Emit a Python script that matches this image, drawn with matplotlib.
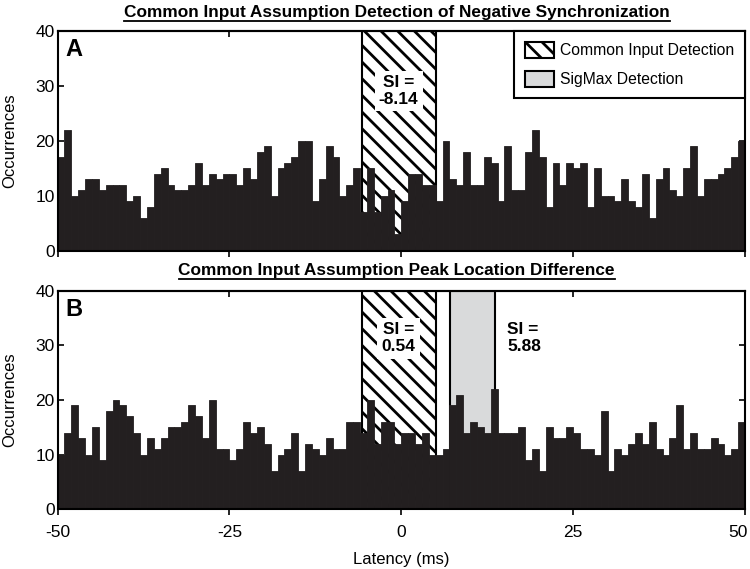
import numpy as np
import matplotlib
matplotlib.use("Agg")
import matplotlib.pyplot as plt
from matplotlib.patches import Rectangle, Patch
from matplotlib.lines import Line2D
from matplotlib.transforms import ScaledTranslation

plt.rcParams["font.family"] = ["Liberation Sans", "DejaVu Sans"]
plt.rcParams["hatch.linewidth"] = 2.0
plt.rcParams["axes.unicode_minus"] = False

# 1 ms bins from -50 to 49 (left edges)
latency = np.arange(-50, 50)

counts_a = [17, 22, 10, 11, 13, 13, 11, 12, 12, 12,
            9, 10, 6, 8, 14, 15, 12, 11, 11, 12,
            16, 12, 14, 13, 14, 14, 12, 15, 13, 18,
            19, 10, 15, 16, 17, 20, 20, 9, 13, 19,
            17, 10, 12, 15, 7, 15, 7, 10, 11, 3,
            9, 14, 14, 12, 12, 9, 20, 13, 12, 18,
            12, 12, 17, 16, 9, 19, 11, 11, 18, 22,
            17, 8, 16, 12, 16, 15, 16, 8, 15, 10,
            10, 9, 13, 9, 8, 14, 6, 13, 15, 11,
            10, 15, 19, 10, 13, 13, 14, 15, 17, 20]

counts_b = [10, 14, 19, 13, 10, 15, 9, 18, 20, 19,
            17, 14, 10, 13, 11, 13, 15, 15, 16, 19,
            17, 13, 20, 11, 11, 9, 11, 16, 14, 15,
            12, 7, 10, 11, 14, 7, 12, 11, 10, 13,
            11, 11, 16, 16, 14, 20, 12, 16, 16, 12,
            14, 14, 12, 14, 10, 10, 11, 19, 21, 14,
            16, 15, 14, 22, 14, 14, 14, 15, 9, 11,
            7, 15, 13, 13, 15, 14, 11, 11, 10, 18,
            7, 11, 10, 12, 14, 12, 16, 11, 10, 13,
            19, 11, 14, 11, 11, 13, 12, 10, 11, 16]

# detection windows (ms)
ci_window = (-5.7, 5.1)
sigmax_window = (7.1, 13.6)

titles = ["Common Input Assumption Detection of Negative Synchronization",
          "Common Input Assumption Peak Location Difference"]

bar_color = "#231f20"
gray = "#d9dadb"
hatch = "\\\\"

fig = plt.figure(figsize=(7.5, 5.69), dpi=100)
ax_a = fig.add_axes([0.0767, 0.5594, 0.9167, 0.386])
ax_b = fig.add_axes([0.0767, 0.105, 0.9167, 0.384])


def draw_panel(ax, counts, label, show_sigmax):
    if show_sigmax:
        ax.add_patch(Rectangle((sigmax_window[0], 0), sigmax_window[1] - sigmax_window[0], 40,
                               facecolor=gray, edgecolor="black", lw=1.5, zorder=1))
    ax.add_patch(Rectangle((ci_window[0], 0), ci_window[1] - ci_window[0], 40,
                           facecolor="white", edgecolor="black", hatch=hatch, lw=1.5, zorder=1))
    ax.bar(latency, counts, width=1.0, align="edge", color=bar_color,
           edgecolor=bar_color, lw=0.6, zorder=2)
    ax.set_xlim(-50, 50)
    ax.set_ylim(0, 40)
    ax.set_yticks([0, 10, 20, 30, 40])
    ax.set_xticks([-50, -25, 0, 25, 50])
    for s in ax.spines.values():
        s.set_linewidth(1.5)
        s.set_zorder(5)
    ax.tick_params(axis="y", direction="in", right=True, length=4, width=1.2,
                   labelsize=12.5, pad=2)
    ax.tick_params(axis="x", direction="out", length=4, width=1.2, labelsize=12.5, pad=7)
    top = ax.secondary_xaxis("top")
    top.set_xticks([-25, 0, 25])
    top.tick_params(direction="in", length=4, width=1.2, labeltop=False)
    top.spines["top"].set_linewidth(1.5)
    ax.set_ylabel("Occurrences", fontsize=12)
    ax.yaxis.set_label_coords(-0.058, 0.5)
    ax.text(-48.8, 36.6, label, fontsize=17, fontweight="bold", va="center", ha="left")


draw_panel(ax_a, counts_a, "A", False)
draw_panel(ax_b, counts_b, "B", True)

ax_a.tick_params(axis="x", labelbottom=False)
ax_b.set_xlabel("Latency (ms)", fontsize=12, labelpad=9)

# keep the "50" label inside the figure
last = ax_b.get_xticklabels()[-1]
last.set_horizontalalignment("right")
last.set_transform(last.get_transform() + ScaledTranslation(3 / 100, 0, fig.dpi_scale_trans))

si_kw = dict(fontsize=12.5, fontweight="bold", va="center", linespacing=1.2, zorder=4)
ax_a.text(-0.4, 29.1, "SI =\n-8.14", ha="center",
          bbox=dict(facecolor="white", edgecolor="none", pad=3), **si_kw)
ax_b.text(-0.4, 31.3, "SI =\n0.54", ha="center",
          bbox=dict(facecolor="white", edgecolor="none", pad=3), **si_kw)
ax_b.text(15.4, 31.3, "SI =\n5.88", ha="left", **si_kw)

handles = [Patch(facecolor="white", edgecolor="black", hatch=hatch, lw=1.5),
           Patch(facecolor=gray, edgecolor="black", lw=1.5)]
leg = ax_a.legend(handles, ["Common Input Detection", "SigMax Detection"],
                  loc="upper right", bbox_to_anchor=(1, 1), borderaxespad=0,
                  fancybox=False, framealpha=1, edgecolor="black", fontsize=11.3,
                  handlelength=1.85, handleheight=1.2, handletextpad=0.4,
                  labelspacing=0.8, borderpad=0.7)
leg.get_frame().set_linewidth(1.5)
leg.set_zorder(6)

title_y = [1 - 12 / 569, 1 - 270 / 569]
title_objs = []
for t, y in zip(titles, title_y):
    title_objs.append(fig.text(0.529, y, t, fontsize=12.4, fontweight="bold",
                               ha="center", va="center"))

# underline the titles
fig.canvas.draw()
inv = fig.transFigure.inverted()
for t in title_objs:
    bb = t.get_window_extent()
    (x0, y0), (x1, y1) = inv.transform([[bb.x0, bb.y0 - 1.0], [bb.x1, bb.y1]])
    fig.add_artist(Line2D([x0, x1], [y0, y0], transform=fig.transFigure,
                          color="black", lw=1.3))

fig.savefig("out.png", dpi=100)
